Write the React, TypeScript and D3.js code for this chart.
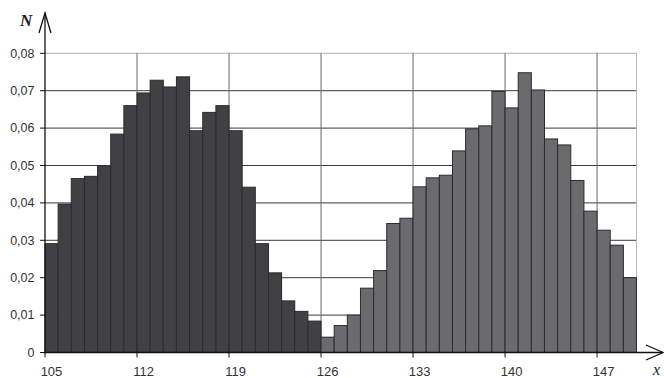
import React from "react";
import * as d3 from "d3";

const binStarts: number[] = d3.range(105, 150);
const firstValues: number[] = [
  0.0291, 0.0397, 0.0465, 0.0471, 0.0498, 0.0584, 0.066, 0.0694, 0.0728, 0.071,
  0.0737, 0.0593, 0.0642, 0.066, 0.0593, 0.0442, 0.0291, 0.0213, 0.0138, 0.011,
  0.0084,
];
const secondValues: number[] = [
  0.0041, 0.0072, 0.01, 0.0172, 0.0219, 0.0345, 0.0359, 0.0443, 0.0467, 0.0474,
  0.0539, 0.0598, 0.0606, 0.0698, 0.0654, 0.0748, 0.0702, 0.0571, 0.0555, 0.046,
  0.0378, 0.0327, 0.0287, 0.02,
];
const xTicks: number[] = [105, 112, 119, 126, 133, 140, 147];
const yTicks: number[] = [0, 0.01, 0.02, 0.03, 0.04, 0.05, 0.06, 0.07, 0.08];

export default function App() {
  const W = 664;
  const H = 378;
  const x = d3.scaleLinear().domain([105, 150]).range([45, 636.5]);
  const y = d3.scaleLinear().domain([0, 0.08]).range([352.5, 53.3]);
  const fmt = (v: number) => (v === 0 ? "0" : d3.format(".2f")(v).replace(".", ","));

  const bars = [
    ...firstValues.map((v, i) => ({ x0: binStarts[i], v, group: 0 })),
    ...secondValues.map((v, i) => ({ x0: binStarts[firstValues.length + i], v, group: 1 })),
  ];

  const x0 = x(105);
  const y0 = y(0);
  const xEnd = x(150);

  return (
    <svg
      width={W}
      height={H}
      style={{ position: "absolute", left: 0, top: 0, background: "#fff" }}
      fontFamily="'Liberation Sans', Arial, sans-serif"
    >
      {/* horizontal grid */}
      {yTicks.slice(1).map((t) => (
        <line
          key={"hg" + t}
          x1={x0}
          x2={xEnd}
          y1={y(t)}
          y2={y(t)}
          stroke={t === 0.08 ? "#b0b0b0" : "#3c3c3c"}
          strokeWidth={1}
        />
      ))}
      {/* vertical grid */}
      {xTicks.slice(1).map((t) => (
        <line key={"vg" + t} x1={x(t)} x2={x(t)} y1={y(0.08)} y2={y0} stroke="#6a6a6a" strokeWidth={1} />
      ))}
      <line x1={xEnd} x2={xEnd} y1={y(0.08)} y2={y0} stroke="#b8b8b8" strokeWidth={1} />

      {/* bars */}
      {bars.map((b, i) => (
        <rect
          key={"b" + i}
          x={x(b.x0)}
          y={y(b.v)}
          width={x(b.x0 + 1) - x(b.x0)}
          height={y0 - y(b.v)}
          fill={b.group === 0 ? "#414143" : "#6b6b6e"}
          stroke="#2b2b2d"
          strokeWidth={1}
        />
      ))}

      {/* y axis */}
      <line x1={x0} x2={x0} y1={y0 + 1} y2={13} stroke="#111" strokeWidth={1.3} />
      <polyline points={`${x0 - 6},33 ${x0},13 ${x0 + 6},33`} fill="none" stroke="#111" strokeWidth={1.3} />
      {yTicks.map((t) => (
        <g key={"yt" + t}>
          <line x1={x0 - 5} x2={x0} y1={y(t)} y2={y(t)} stroke="#111" strokeWidth={1} />
          <text x={34.5} y={y(t)} dy="0.35em" textAnchor="end" fontSize={12.5} fill="#333">
            {fmt(t)}
          </text>
        </g>
      ))}

      {/* x axis */}
      <line x1={x0} x2={663} y1={y0} y2={y0} stroke="#111" strokeWidth={1.3} />
      <polyline points={`646,345 663,${y0} 646,360`} fill="none" stroke="#111" strokeWidth={1.3} />
      {xTicks.map((t) => (
        <g key={"xt" + t}>
          <line x1={x(t)} x2={x(t)} y1={y0} y2={y0 + 5} stroke="#111" strokeWidth={1} />
          <text x={x(t) + 6.5} y={376} textAnchor="middle" fontSize={13} fill="#333">
            {t}
          </text>
        </g>
      ))}

      <text x={20} y={26} fontFamily="'Liberation Serif', 'Times New Roman', serif" fontStyle="italic" fontWeight="bold" fontSize={17} fill="#222">
        N
      </text>
      <text x={653} y={375} fontFamily="'Liberation Serif', 'Times New Roman', serif" fontStyle="italic" fontSize={16} fill="#222">
        x
      </text>
    </svg>
  );
}
